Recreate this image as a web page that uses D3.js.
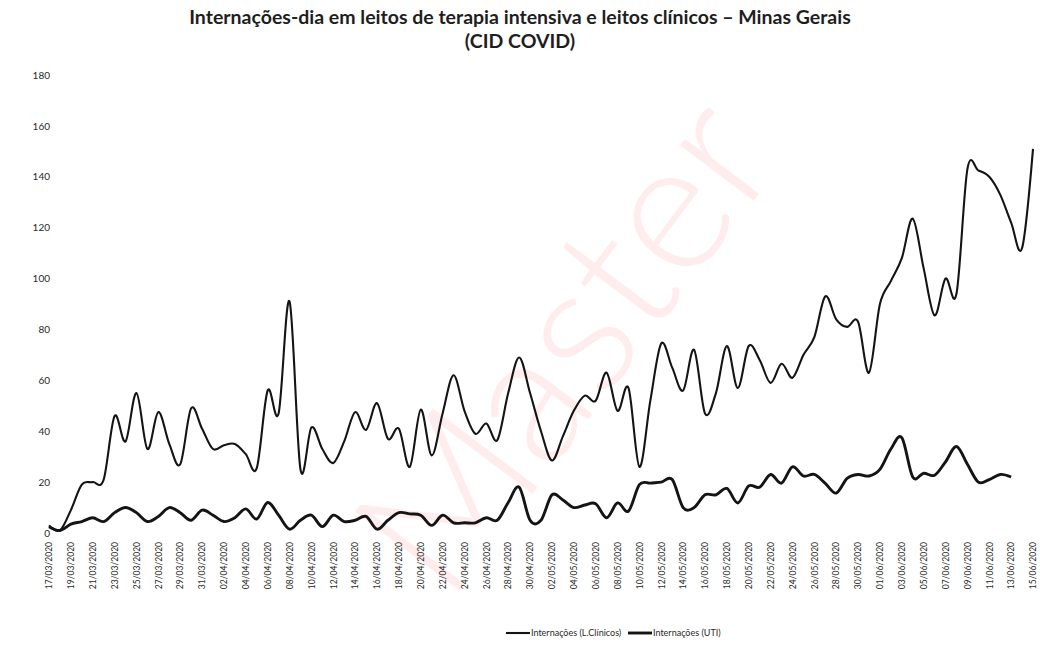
<!DOCTYPE html>
<html>
<head>
<meta charset="utf-8">
<script src="https://cdn.jsdelivr.net/npm/d3@7"></script>
<style>
    body { margin: 0; background: #fff; }
    svg { display: block; font-family: Lato, 'Open Sans', sans-serif; }
    .tick text { fill: #2a2a2a; }
</style>
</head>
<body>
<div id="chart"></div>
<script>
// daily series, 17/03/2020 .. 15/06/2020
const startDay = new Date(2020, 2, 17),
    endDay = new Date(2020, 5, 16);

const clinicos = [
    3, 1, 9, 19, 20, 21, 46, 36, 55, 33,
    47.5, 35, 27, 49, 41, 33, 34.5, 35, 31, 25.5,
    56, 47, 91, 25, 41.5, 33, 27.5, 36, 47.5, 40.5,
    51, 37, 41, 26, 48.5, 30.5, 47, 62, 48, 39,
    43, 36.5, 55, 69, 55, 40, 28.5, 38, 48, 54,
    52, 63, 48, 57, 26, 52, 74.5, 65, 56, 72,
    47, 55, 73.5, 57, 73.5, 68, 59, 66.5, 61, 70,
    77, 93, 84, 81, 83, 63, 90, 99, 108, 123.5,
    104, 85.5, 100, 94, 143, 142.5, 140, 133, 122, 112,
    151
];

const uti = [
    2.5, 1, 3.5, 4.5, 6, 4.5, 8, 10, 8, 4.5,
    6.5, 10, 8, 5, 9, 7, 4.5, 6, 9.5, 5.5,
    12, 7, 1.5, 5, 7, 2.5, 7, 4.5, 5, 6.5,
    1.5, 5, 8, 7.5, 7, 3, 7, 4, 4, 4,
    6, 5, 12, 18, 5, 5, 15, 13, 10, 11,
    11.5, 6, 11.8, 8.6, 19, 19.6, 20, 21, 10, 10,
    15, 15, 17.5, 11.8, 18.5, 18, 23, 19.6, 26, 22.4,
    23, 19.5, 15.7, 21.5, 23, 22.4, 25, 33, 37.5, 22,
    23.5, 22.7, 28, 34, 27, 20, 21, 23, 22, null,
    null
];

const yTicks = [0, 20, 40, 60, 80, 100, 120, 140, 160, 180];
const seriesNames = ['Internações (L.Clínicos)', 'Internações (UTI)'];
const titleLines = [
    'Internações-dia em leitos de terapia intensiva e leitos clínicos – Minas Gerais',
    '(CID COVID)'
];

const W = 1040, H = 645;
const fmt = d3.timeFormat('%d/%m/%Y');
const days = d3.timeDay.range(startDay, endDay).map(fmt);

const svg = d3.select('#chart').append('svg')
    .attr('width', W).attr('height', H);

svg.append('rect').attr('width', W).attr('height', H).attr('fill', '#fff');

// faint watermark of the scanned source
svg.append('text')
    .attr('transform', 'translate(448,606) rotate(-53)')
    .attr('font-size', 185)
    .attr('font-weight', 300)
    .attr('fill', 'rgba(255,40,40,0.09)')
    .text('Master');

const x = d3.scalePoint().domain(days).range([49, 1033]);
const y = d3.scaleLinear().domain([0, 180]).range([533, 75]);

// title
svg.append('g').attr('class', 'title')
    .selectAll('text')
    .data(titleLines)
  .enter().append('text')
    .attr('x', 520)
    .attr('y', (d, i) => 24 + i * 24)
    .attr('text-anchor', 'middle')
    .attr('font-size', 19.5)
    .attr('font-weight', 700)
    .attr('fill', '#1e1e1e')
    .text(d => d);

// y axis, no line, no ticks
const gy = svg.append('g')
    .attr('transform', 'translate(50,0)')
    .call(d3.axisLeft(y).tickValues(yTicks).tickSize(0).tickPadding(0));
gy.select('.domain').remove();
gy.selectAll('text').attr('font-size', 10).attr('font-family', 'Lato');

// x axis, every second day, rotated labels
const gx = svg.append('g')
    .attr('transform', 'translate(0,540)')
    .call(d3.axisBottom(x).tickValues(days.filter((d, i) => i % 2 == 0)).tickSize(0));
gx.select('.domain').remove();
gx.selectAll('text')
    .attr('font-size', 8.5)
    .attr('font-family', 'Lato')
    .attr('transform', 'rotate(-90)')
    .attr('text-anchor', 'end')
    .attr('dx', 0)
    .attr('dy', '0.32em')
    .attr('x', -2)
    .attr('y', 0);

const line = d3.line()
    .defined(d => d != null)
    .x((d, i) => x(days[i]))
    .y(d => y(d))
    .curve(d3.curveCardinal.tension(0));

const widths = [2.1, 2.9];
[clinicos, uti].forEach((s, k) => {
    svg.append('path')
        .datum(s)
        .attr('fill', 'none')
        .attr('stroke', '#141414')
        .attr('stroke-width', widths[k])
        .attr('stroke-linejoin', 'round')
        .attr('d', line);
});

// legend
const lg = svg.append('g').attr('class', 'legend')
    .selectAll('g')
    .data(seriesNames)
  .enter().append('g')
    .attr('transform', (d, i) => `translate(${i ? 628 : 506},633)`);
lg.append('line')
    .attr('x1', 0).attr('x2', 24)
    .attr('stroke', '#141414')
    .attr('stroke-width', (d, i) => widths[i]);
lg.append('text')
    .attr('x', 25)
    .attr('dy', '0.33em')
    .attr('font-size', 9)
    .attr('fill', '#2a2a2a')
    .text(d => d);
</script>
</body>
</html>
